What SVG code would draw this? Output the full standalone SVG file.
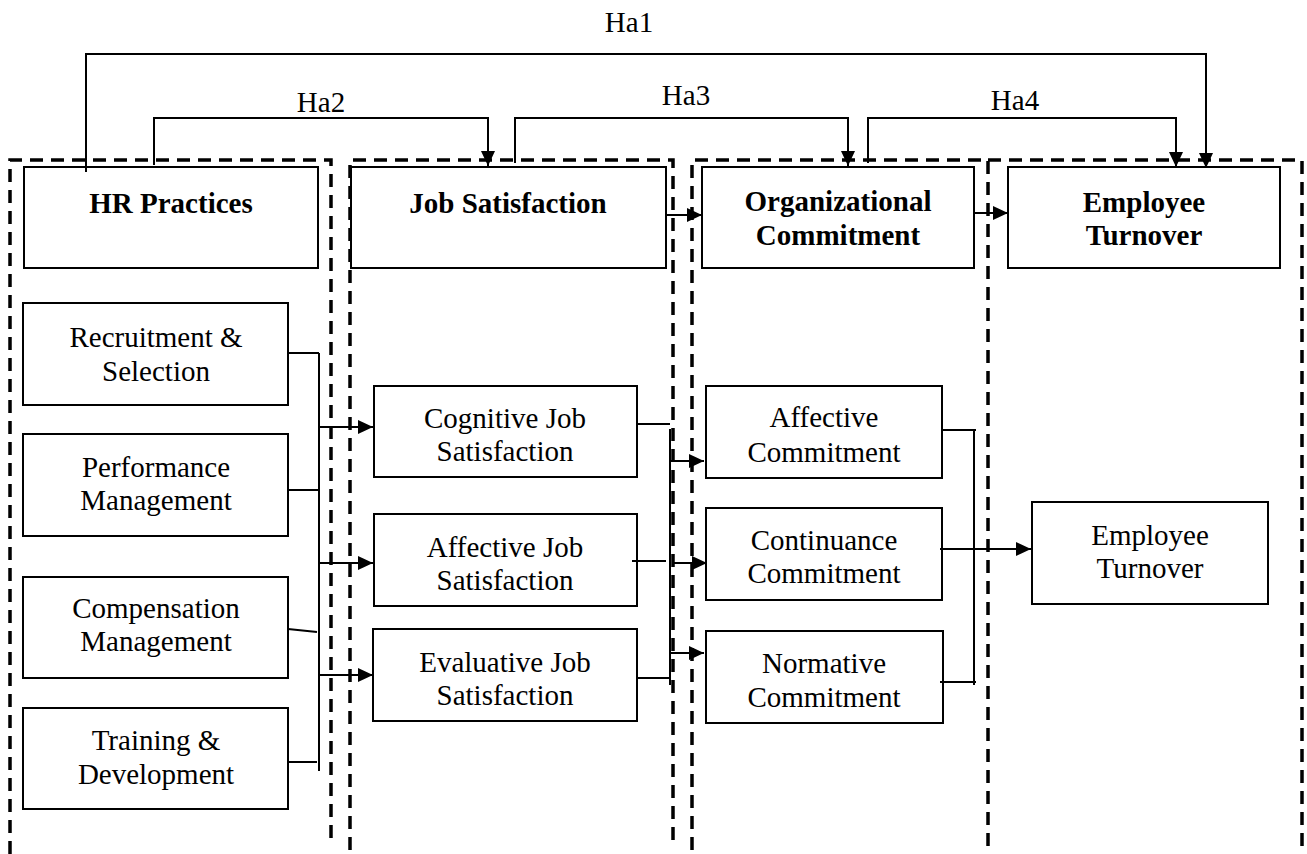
<svg xmlns="http://www.w3.org/2000/svg" width="1307" height="854" viewBox="0 0 1307 854">
<style>
.bg{fill:#ffffff}
.box{fill:#ffffff;stroke:#000;stroke-width:2}
.dash{fill:none;stroke:#000;stroke-width:3.5;stroke-dasharray:13 8}
.ln{fill:none;stroke:#000;stroke-width:2}
.t{font-family:"Liberation Serif","Times New Roman",serif;font-size:29px;fill:#000;text-anchor:middle}
.h{font-weight:bold}
</style>
<defs>
<marker id="ah" viewBox="0 0 15 14" refX="15" refY="7" markerWidth="15" markerHeight="14" markerUnits="userSpaceOnUse" orient="auto">
<path d="M0,0 L15,7 L0,14 Z" fill="#000"/>
</marker>
</defs>
<rect class="bg" x="0" y="0" width="1307" height="854"/>
<g id="regions">
<path class="dash" d="M10,854 V160 H331 V842"/>
<path class="dash" d="M350,850 V160 H673 V845"/>
<path class="dash" d="M692,850 V160 H988 V852"/>
<path class="dash" d="M988,160 H1302 V854"/>
</g>
<g id="hr-practices"><rect class="box" x="24" y="167" width="294" height="101"/><text class="t h" x="171" y="213">HR Practices</text></g>
<g id="job-satisfaction"><rect class="box" x="351" y="167" width="315" height="101"/><text class="t h" x="508" y="213">Job Satisfaction</text></g>
<g id="org-commitment"><rect class="box" x="702" y="167" width="272" height="101"/><text class="t h" x="838" y="211">Organizational</text><text class="t h" x="838" y="245">Commitment</text></g>
<g id="employee-turnover-head"><rect class="box" x="1008" y="167" width="272" height="101"/><text class="t h" x="1144" y="212">Employee</text><text class="t h" x="1144" y="245">Turnover</text></g>
<g id="recruitment"><rect class="box" x="23" y="303" width="265" height="102"/><text class="t" x="156" y="347">Recruitment &amp;</text><text class="t" x="156" y="381">Selection</text></g>
<g id="performance"><rect class="box" x="23" y="434" width="265" height="102"/><text class="t" x="156" y="477">Performance</text><text class="t" x="156" y="510">Management</text></g>
<g id="compensation"><rect class="box" x="23" y="577" width="265" height="101"/><text class="t" x="156" y="618">Compensation</text><text class="t" x="156" y="651">Management</text></g>
<g id="training"><rect class="box" x="23" y="708" width="265" height="101"/><text class="t" x="156" y="750">Training &amp;</text><text class="t" x="156" y="784">Development</text></g>
<g id="cognitive-js"><rect class="box" x="374" y="386" width="263" height="91"/><text class="t" x="505" y="428">Cognitive Job</text><text class="t" x="505" y="461">Satisfaction</text></g>
<g id="affective-js"><rect class="box" x="374" y="514" width="263" height="92"/><text class="t" x="505" y="557">Affective Job</text><text class="t" x="505" y="590">Satisfaction</text></g>
<g id="evaluative-js"><rect class="box" x="373" y="629" width="264" height="92"/><text class="t" x="505" y="672">Evaluative Job</text><text class="t" x="505" y="705">Satisfaction</text></g>
<g id="affective-c"><rect class="box" x="706" y="386" width="236" height="92"/><text class="t" x="824" y="427">Affective</text><text class="t" x="824" y="462">Commitment</text></g>
<g id="continuance-c"><rect class="box" x="706" y="508" width="236" height="92"/><text class="t" x="824" y="550">Continuance</text><text class="t" x="824" y="583">Commitment</text></g>
<g id="normative-c"><rect class="box" x="706" y="631" width="237" height="92"/><text class="t" x="824" y="673">Normative</text><text class="t" x="824" y="707">Commitment</text></g>
<g id="employee-turnover"><rect class="box" x="1032" y="502" width="236" height="102"/><text class="t" x="1150" y="545">Employee</text><text class="t" x="1150" y="578">Turnover</text></g>
<g id="connectors">
<path class="ln" d="M86,172 V54 H1206 V168" marker-end="url(#ah)"/>
<path class="ln" d="M154,165 V118 H488 V166" marker-end="url(#ah)"/>
<path class="ln" d="M515,163 V118 H848 V166" marker-end="url(#ah)"/>
<path class="ln" d="M868,163 V118 H1176 V167" marker-end="url(#ah)"/>
<path class="ln" d="M666,215 H702" marker-end="url(#ah)"/>
<path class="ln" d="M974,213 H1008" marker-end="url(#ah)"/>
<path class="ln" d="M288,353 H319 M288,490 H319 M288,629 L317,632 M288,762 H317 M319,353 V771"/>
<path class="ln" d="M319,427 H373" marker-end="url(#ah)"/>
<path class="ln" d="M319,563 H373" marker-end="url(#ah)"/>
<path class="ln" d="M319,675 H373" marker-end="url(#ah)"/>
<path class="ln" d="M637,424 H670 M632,561 H666 M637,678 H670 M670,429 V685"/>
<path class="ln" d="M670,461 H704" marker-end="url(#ah)"/>
<path class="ln" d="M674,563 H707" marker-end="url(#ah)"/>
<path class="ln" d="M670,653 H704" marker-end="url(#ah)"/>
<path class="ln" d="M942,430 H976 M940,682 H976 M974,430 V685"/>
<path class="ln" d="M940,549 H1031" marker-end="url(#ah)"/>
</g>
<g id="labels">
<text class="t" x="629" y="32">Ha1</text>
<text class="t" x="321" y="112">Ha2</text>
<text class="t" x="686" y="105">Ha3</text>
<text class="t" x="1015" y="110">Ha4</text>
</g>
</svg>
